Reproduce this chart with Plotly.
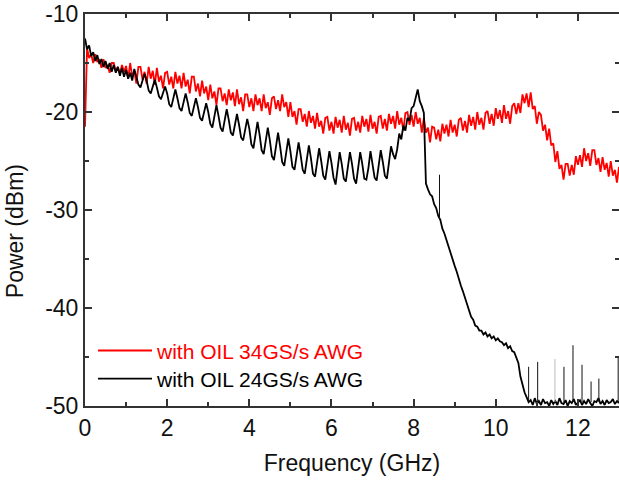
import plotly.graph_objects as go

# ---------------- data ----------------
FREQ_STEP_GHZ = 0.05  # spectrum sample spacing

# "with OIL 34GS/s AWG"  (red), one value every 0.05 GHz from 0 to 13 GHz
power_34gs = [
    -21.5, -13.5, -14.5, -14.1, -15.0, -14.1, -14.9, -14.6, -15.5, -14.6, -15.5, -15.2, -16.0, -15.0, -15.0, -15.9, -15.4, -16.1, -15.2, -15.9,
    -15.3, -16.6, -15.0, -16.4, -15.8, -17.1, -15.4, -15.4, -16.7, -15.9, -17.1, -15.4, -16.6, -15.8, -17.2, -15.5, -16.9, -16.3, -17.6, -16.0,
    -15.9, -17.2, -16.4, -17.6, -15.9, -17.1, -16.3, -17.6, -16.0, -17.4, -16.7, -18.1, -16.4, -16.4, -17.9, -17.1, -18.4, -16.8, -18.1, -17.4,
    -18.8, -17.2, -18.6, -17.9, -19.3, -17.6, -17.6, -18.9, -18.1, -19.3, -17.7, -18.8, -18.0, -19.4, -17.7, -19.2, -18.5, -19.9, -18.2, -18.2,
    -19.5, -18.6, -19.9, -18.2, -19.3, -18.6, -19.9, -18.2, -19.6, -19.0, -20.3, -18.6, -18.4, -19.7, -18.8, -19.9, -18.2, -19.5, -19.0, -20.5,
    -19.0, -20.5, -19.9, -21.3, -19.7, -19.7, -21.0, -20.2, -21.5, -19.9, -21.1, -20.4, -21.7, -20.1, -21.5, -20.9, -22.2, -20.6, -20.5, -21.9,
    -21.0, -22.2, -20.5, -21.6, -20.8, -22.1, -20.4, -21.8, -21.1, -22.4, -20.7, -20.6, -21.9, -21.0, -22.1, -20.4, -21.5, -20.7, -22.0, -20.3,
    -21.7, -21.0, -22.2, -20.5, -20.4, -21.7, -20.7, -21.9, -20.2, -21.2, -20.4, -21.7, -19.9, -21.3, -20.6, -21.9, -20.1, -20.0, -21.3, -20.3,
    -21.5, -20.0, -21.2, -20.6, -22.1, -20.6, -22.1, -21.6, -23.1, -21.5, -21.6, -22.8, -21.8, -23.0, -21.2, -22.2, -21.3, -22.5, -20.8, -22.1,
    -21.3, -22.5, -20.8, -20.6, -21.9, -20.9, -22.1, -20.3, -21.4, -20.5, -21.8, -20.0, -21.3, -20.6, -21.8, -20.1, -19.9, -21.2, -20.2, -21.4,
    -19.6, -20.7, -19.8, -21.1, -19.3, -20.7, -19.9, -21.2, -19.4, -19.1, -20.2, -19.1, -20.1, -18.2, -19.1, -18.1, -19.5, -18.0, -19.7, -19.4,
    -21.2, -20.0, -20.3, -21.9, -21.3, -22.9, -21.7, -23.4, -23.2, -25.1, -24.0, -25.8, -25.4, -26.9, -25.3, -25.3, -26.5, -25.4, -26.4, -24.5,
    -25.4, -24.4, -25.6, -23.7, -25.0, -24.2, -25.5, -23.9, -23.9, -25.4, -24.7, -26.1, -24.6, -25.9, -25.2, -26.6, -25.0, -26.5, -25.9, -27.2,
    -25.6,
]

# "with OIL 24GS/s AWG"  (black), same frequency grid
power_24gs = [
    -12.5, -13.6, -13.2, -14.3, -13.9, -14.8, -14.2, -15.1, -14.6, -15.4, -14.8, -15.6, -15.0, -15.9, -15.2, -16.0, -15.4, -16.3, -15.5, -16.4,
    -15.7, -16.6, -16.0, -16.8, -15.6, -16.3, -17.2, -17.5, -16.9, -16.1, -16.8, -17.8, -18.1, -17.5, -16.7, -17.5, -18.4, -18.7, -18.1, -17.4,
    -18.1, -19.2, -19.5, -18.7, -17.7, -18.6, -19.6, -19.9, -19.1, -18.1, -19.0, -20.1, -20.4, -19.6, -18.6, -19.5, -20.6, -20.9, -20.1, -19.1,
    -20.0, -21.2, -21.6, -20.6, -19.3, -20.4, -21.6, -22.0, -21.0, -19.7, -20.8, -22.1, -22.4, -21.4, -20.2, -21.3, -22.6, -22.9, -21.9, -20.7,
    -21.7, -23.3, -23.7, -22.5, -21.0, -22.3, -23.9, -24.3, -23.1, -21.6, -22.9, -24.5, -24.9, -23.7, -22.1, -23.5, -25.1, -25.5, -24.2, -22.7,
    -24.0, -25.6, -25.9, -24.7, -23.1, -24.4, -25.9, -26.3, -25.0, -23.4, -24.7, -26.3, -26.6, -25.3, -23.7, -25.0, -26.5, -26.9, -25.6, -24.0,
    -25.2, -26.7, -27.4, -25.7, -24.1, -25.3, -26.8, -27.1, -25.8, -24.1, -25.3, -26.8, -27.3, -25.7, -24.1, -25.3, -26.8, -26.9, -25.7, -24.0,
    -25.2, -26.7, -27.0, -25.6, -23.9, -25.1, -26.5, -26.8, -25.3, -23.5, -24.3, -24.8, -23.8, -22.2, -22.8, -21.4, -21.9, -20.6, -20.9, -19.6,
    -19.4, -18.5, -17.7, -18.9, -19.4, -20.1, -27.3, -27.9, -28.4, -28.6, -29.4, -29.8, -30.6, -31.0, -31.9, -32.4, -33.1, -33.6, -34.4, -35.0,
    -35.7, -36.3, -37.1, -37.7, -38.3, -39.0, -39.7, -40.3, -40.9, -41.2, -41.8, -41.9, -42.3, -42.3, -42.7, -42.5, -42.9, -42.7, -43.1, -42.9,
    -43.3, -43.1, -43.4, -43.5, -43.8, -43.6, -44.1, -43.9, -44.4, -44.5, -45.0, -45.6, -47.0, -47.8, -48.6, -49.1, -49.6, -49.4, -49.9, -49.2,
    -49.8, -49.5, -49.9, -49.3, -49.7, -49.6, -50.0, -49.4, -49.8, -49.5, -49.9, -49.2, -49.7, -49.8, -49.4, -50.0, -49.5, -49.7, -49.3, -49.9,
    -49.6, -49.4, -49.9, -49.5, -49.8, -49.3, -49.7, -50.0, -49.5, -49.6, -49.2, -49.8, -49.5, -49.9, -49.4, -49.7, -49.6, -49.3, -49.8, -49.5,
    -49.7,
]

# narrow spurs on the black trace (frequency, top, base)
spur_freq = [8.63, 10.80, 11.02, 11.66, 11.88, 12.10, 12.32, 12.51, 12.98]
spur_top = [-26.4, -46.0, -45.5, -46.0, -43.8, -45.8, -47.5, -47.2, -45.0]
spur_base = [-31.0, -49.6, -49.6, -49.6, -49.6, -49.6, -49.6, -49.6, -49.6]
grey_spur_freq = [11.44]
grey_spur_top = [-45.2]
grey_spur_base = [-49.6]

x_tick_vals = [0, 2, 4, 6, 8, 10, 12]
x_tick_text = ["0", "2", "4", "6", "8", "10", "12"]
y_tick_vals = [-50, -40, -30, -20, -10]
y_tick_text = ["-50", "-40", "-30", "-20", "-10"]
x_minor_vals = [1, 3, 5, 7, 9, 11, 13]
y_minor_vals = [-45, -35, -25, -15]

series_names = ["with OIL 34GS/s AWG", "with OIL 24GS/s AWG"]
series_colors = ["#ff0000", "#000000"]

freq_34 = [round(i * FREQ_STEP_GHZ, 2) for i in range(len(power_34gs))]
freq_24 = [round(i * FREQ_STEP_GHZ, 2) for i in range(len(power_24gs))]


def segments(xs, tops, bases):
    sx, sy = [], []
    for x, t, b in zip(xs, tops, bases):
        sx += [x, x, None]
        sy += [b, t, None]
    return sx, sy


FONT = "Liberation Sans, Arial, sans-serif"
AXIS_COL = "#333333"

fig = go.Figure()
fig.add_trace(go.Scatter(
    x=freq_34, y=power_34gs, mode="lines",
    line=dict(color=series_colors[0], width=1.8),
    name='<span style="color:%s">%s</span>' % (series_colors[0], series_names[0]),
    legend="legend",
))
fig.add_trace(go.Scatter(
    x=freq_24, y=power_24gs, mode="lines",
    line=dict(color=series_colors[1], width=1.8),
    name='<span style="color:%s">%s</span>' % (series_colors[1], series_names[1]),
    legend="legend2",
))
sx, sy = segments(spur_freq, spur_top, spur_base)
fig.add_trace(go.Scatter(x=sx, y=sy, mode="lines", line=dict(color="#111111", width=1),
                         showlegend=False, hoverinfo="skip"))
gx, gy = segments(grey_spur_freq, grey_spur_top, grey_spur_base)
fig.add_trace(go.Scatter(x=gx, y=gy, mode="lines", line=dict(color="#bbbbbb", width=1),
                         showlegend=False, hoverinfo="skip"))

legend_common = dict(
    xanchor="left", yanchor="top",
    bgcolor="rgba(0,0,0,0)", borderwidth=0,
    font=dict(family=FONT, size=21),
    itemwidth=54, tracegroupgap=0,
)

fig.update_layout(
    width=619, height=480,
    margin=dict(l=85, r=0, t=14, b=74),
    paper_bgcolor="white", plot_bgcolor="white",
    font=dict(family=FONT, size=23, color="#111111"),
    showlegend=True,
    legend=dict(x=0.015, y=0.193, **legend_common),
    legend2=dict(x=0.015, y=0.121, **legend_common),
    xaxis=dict(
        range=[0, 13.0], showgrid=False, zeroline=False, automargin=False,
        showline=True, linecolor=AXIS_COL, linewidth=2, mirror="ticks",
        ticks="inside", ticklen=7, tickwidth=1.5, tickcolor=AXIS_COL,
        tickmode="array", tickvals=x_tick_vals, ticktext=x_tick_text,
        minor=dict(tickmode="array", tickvals=x_minor_vals, ticks="inside",
                   ticklen=4, tickwidth=1.5, tickcolor=AXIS_COL),
        tickfont=dict(size=23),
        title=dict(text="Frequency (GHz)", font=dict(size=23), standoff=15),
    ),
    yaxis=dict(
        range=[-50, -10], showgrid=False, zeroline=False, automargin=False,
        showline=True, linecolor=AXIS_COL, linewidth=2, mirror="ticks",
        ticks="inside", ticklen=7, tickwidth=1.5, tickcolor=AXIS_COL,
        tickmode="array", tickvals=y_tick_vals, ticktext=y_tick_text,
        minor=dict(tickmode="array", tickvals=y_minor_vals, ticks="inside",
                   ticklen=4, tickwidth=1.5, tickcolor=AXIS_COL),
        tickfont=dict(size=23),
    ),
    annotations=[dict(
        text="Power (dBm)", textangle=-90, showarrow=False,
        xref="paper", yref="paper", x=-0.131, y=0.446,
        xanchor="center", yanchor="middle",
        font=dict(family=FONT, size=23, color="#111111"),
    )],
)

# remove the browser's default 8 px body margin so the figure sits at the page origin
fig.write_html("out.html", config={"displayModeBar": False},
               post_script="document.body.style.margin='0';")
